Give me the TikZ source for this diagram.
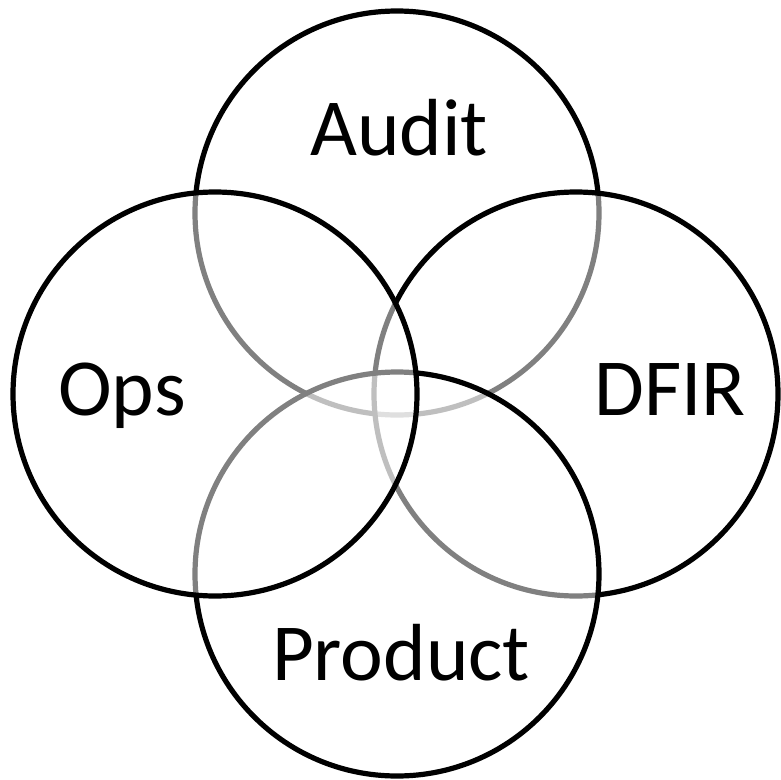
\documentclass[tikz,border=0pt]{standalone}
\usepackage{fontspec}
\setmainfont{Carlito}
\begin{document}
\begin{tikzpicture}[x=1pt,y=-1pt,
  venn/.style={circle,draw=black,line width=5.2pt,fill=white,fill opacity=0.5,draw opacity=1,minimum size=404pt,inner sep=0pt},
  lbl/.style={anchor=base,inner sep=0pt,font=\fontsize{81}{97}\selectfont,text=black}]
\useasboundingbox (0,0) rectangle (781,779);
\node[venn] (audit) at (397,213) {};
\node[venn] (dfir) at (576,394) {};
\node[venn] (product) at (397,574) {};
\node[venn] (ops) at (215,394) {};
\node[lbl] (tA) at (399,155) {Audit};
\node[lbl] (tO) at (122,415) {Ops};
\node[lbl] (tD) at (670,415) {DFIR};
\node[lbl] (tP) at (401,680) {Product};
\end{tikzpicture}
\end{document}
